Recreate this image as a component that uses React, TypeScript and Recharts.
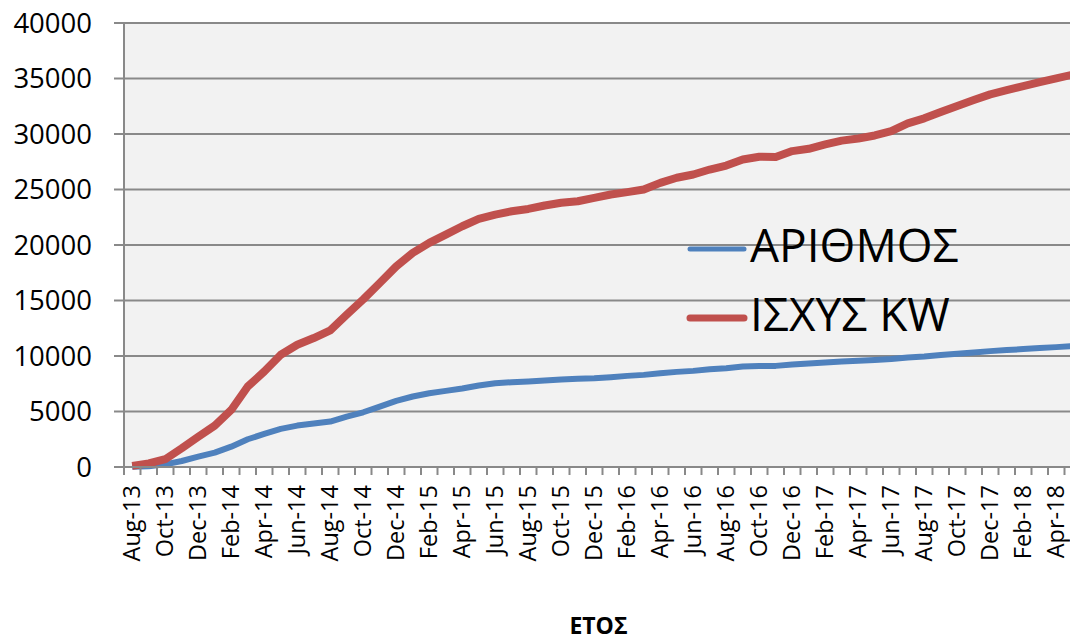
import React from 'react';
import { LineChart, Line, XAxis, YAxis, CartesianGrid, Legend, Label } from 'recharts';

const months: string[] = [
  'Aug-13', 'Sep-13', 'Oct-13', 'Nov-13', 'Dec-13',
  'Jan-14', 'Feb-14', 'Mar-14', 'Apr-14', 'May-14', 'Jun-14', 'Jul-14', 'Aug-14', 'Sep-14', 'Oct-14', 'Nov-14', 'Dec-14',
  'Jan-15', 'Feb-15', 'Mar-15', 'Apr-15', 'May-15', 'Jun-15', 'Jul-15', 'Aug-15', 'Sep-15', 'Oct-15', 'Nov-15', 'Dec-15',
  'Jan-16', 'Feb-16', 'Mar-16', 'Apr-16', 'May-16', 'Jun-16', 'Jul-16', 'Aug-16', 'Sep-16', 'Oct-16', 'Nov-16', 'Dec-16',
  'Jan-17', 'Feb-17', 'Mar-17', 'Apr-17', 'May-17', 'Jun-17', 'Jul-17', 'Aug-17', 'Sep-17', 'Oct-17', 'Nov-17', 'Dec-17',
  'Jan-18', 'Feb-18', 'Mar-18', 'Apr-18', 'May-18',
];

const arithmos: number[] = [
  20, 60, 240, 540, 930, 1290, 1830, 2500, 2980, 3430, 3730, 3910, 4090, 4540, 4930, 5440, 5960,
  6350, 6650, 6860, 7070, 7340, 7550, 7640, 7700, 7790, 7880, 7940, 7990,
  8090, 8210, 8300, 8450, 8570, 8660, 8810, 8900, 9050, 9110, 9110, 9230,
  9320, 9410, 9500, 9570, 9630, 9720, 9860, 9950, 10080, 10200, 10320, 10440,
  10530, 10620, 10710, 10800, 10890,
];

const isxys: number[] = [
  100, 330, 700, 1690, 2730, 3730, 5140, 7250, 8600, 10110, 11010, 11620, 12300, 13720, 15100, 16580, 18080,
  19290, 20190, 20940, 21690, 22350, 22740, 23040, 23250, 23560, 23800, 23940, 24250,
  24550, 24760, 25000, 25600, 26060, 26350, 26800, 27160, 27700, 27950, 27920, 28460,
  28670, 29060, 29400, 29600, 29870, 30260, 30960, 31410, 31980, 32520, 33060, 33570,
  33960, 34320, 34680, 35020, 35350,
];

const yTicks: number[] = [0, 5000, 10000, 15000, 20000, 25000, 30000, 35000, 40000];

const seriesNames = { a: 'ΑΡΙΘΜΟΣ', b: 'ΙΣΧΥΣ KW' };
const xTitle = 'ΕΤΟΣ';

const data = months.map((m, i) => ({ month: m, a: arithmos[i], b: isxys[i] }));

const BLUE = '#4f81bd';
const RED = '#c0504d';
const GRID = '#898989';
const FONT = '"Open Sans", sans-serif';

const XTick = (props: any) => {
  const { x, y, payload, index } = props;
  const half = payload && typeof payload.offset === 'number' && payload.offset > 0 ? payload.offset : 8.25;
  const axisY = y - 18;
  return (
    <g>
      <line x1={x - half} x2={x - half} y1={axisY} y2={axisY + 8} stroke={GRID} strokeWidth={2} />
      {index % 2 === 0 && (
        <text
          x={x}
          y={y}
          transform={`rotate(-90, ${x}, ${y})`}
          textAnchor="end"
          dy="0.32em"
          fontSize={23.5}
          fill="#000"
          fontFamily={FONT}
        >
          {payload.value}
        </text>
      )}
    </g>
  );
};

const LegendContent = (props: any) => {
  const items = (props.payload || []) as any[];
  return (
    <div style={{ fontFamily: FONT }}>
      {items.map((it: any) => (
        <div
          key={it.value}
          style={{ display: 'flex', alignItems: 'center', height: 69, lineHeight: '69px', fontSize: 46, color: '#000', whiteSpace: 'nowrap' }}
        >
          <svg width={62} height={12} style={{ marginTop: 9, display: 'block' }}>
            <line x1={4} x2={58} y1={6} y2={6} stroke={it.color} strokeWidth={it.dataKey === 'b' ? 7 : 5} strokeLinecap="round" />
          </svg>
          <span style={{ marginLeft: 2 }}>{it.value}</span>
        </div>
      ))}
    </div>
  );
};

export default function App() {
  return (
    <div style={{ position: 'absolute', left: 0, top: 0, width: 1070, height: 642, overflow: 'hidden', background: '#fff' }}>
      <LineChart
        width={1081}
        height={642}
        data={data}
        margin={{ top: 23, right: 0, bottom: 0, left: 0 }}
        style={{ fontFamily: FONT }}
      >
        <CartesianGrid vertical={false} fill="#f2f2f2" stroke={GRID} strokeWidth={2} />
        <XAxis
          dataKey="month"
          scale="band"
          interval={0}
          height={175}
          tickLine={false}
          tickSize={8}
          tickMargin={10}
          axisLine={{ stroke: GRID, strokeWidth: 2 }}
          tick={<XTick />}
        >
          <Label value={xTitle} position="insideBottom" offset={8} dx={-4} fontSize={23} fontWeight="bold" fill="#000" fontFamily={FONT} />
        </XAxis>
        <YAxis
          domain={[0, 40000]}
          ticks={yTicks}
          interval={0}
          width={124}
          tickSize={10}
          tickMargin={22}
          axisLine={{ stroke: GRID, strokeWidth: 2 }}
          tickLine={{ stroke: GRID, strokeWidth: 2 }}
          tick={{ fontSize: 27.5, fill: '#000', fontFamily: FONT }}
        />
        <Legend
          layout="vertical"
          align="center"
          verticalAlign="middle"
          content={<LegendContent />}
          wrapperStyle={{ left: 686, top: 210, width: 'auto' }}
        />
        <Line type="linear" dataKey="a" name={seriesNames.a} stroke={BLUE} strokeWidth={6} dot={false} strokeLinejoin="round" isAnimationActive={false} />
        <Line type="linear" dataKey="b" name={seriesNames.b} stroke={RED} strokeWidth={8} dot={false} strokeLinejoin="round" isAnimationActive={false} />
      </LineChart>
    </div>
  );
}
